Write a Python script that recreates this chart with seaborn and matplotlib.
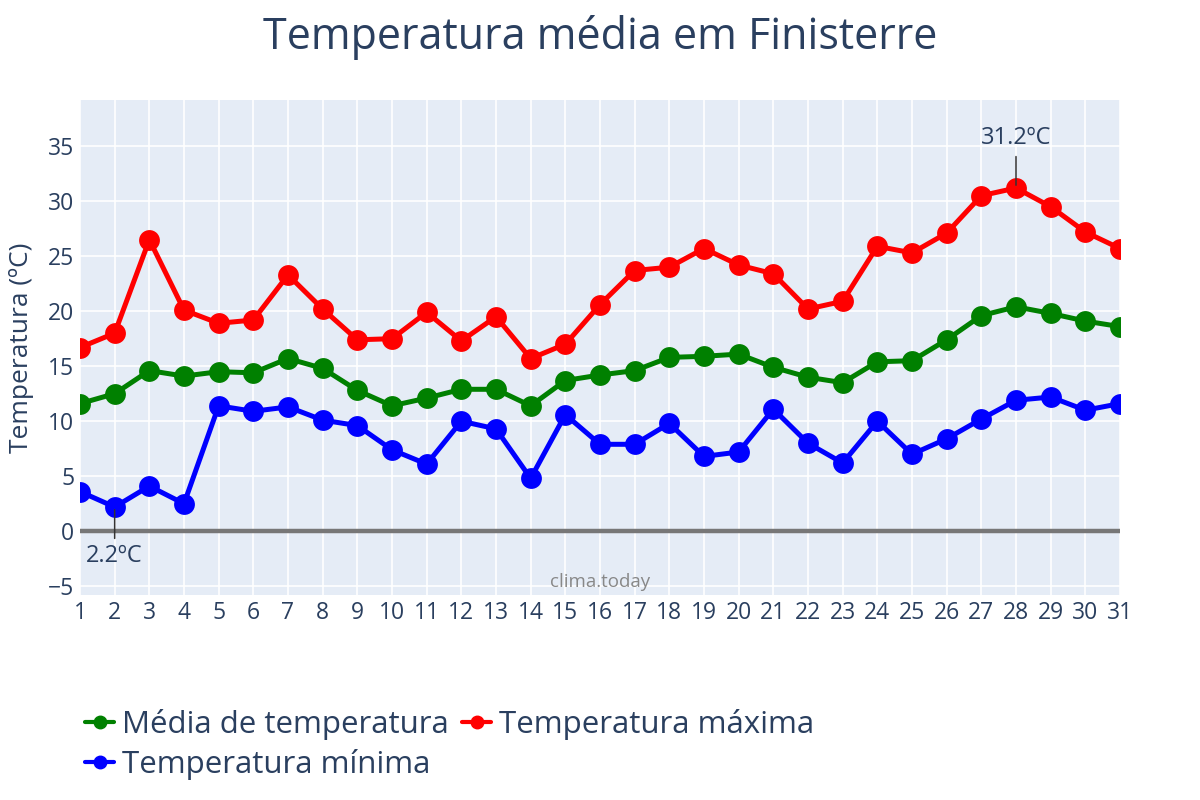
import matplotlib
matplotlib.use("Agg")
import matplotlib.pyplot as plt
import seaborn as sns
import pandas as pd
from matplotlib.lines import Line2D

days = list(range(1, 32))
t_max = [16.7, 18.0, 26.5, 20.1, 18.9, 19.2, 23.3, 20.2, 17.4, 17.5, 19.9, 17.3, 19.5, 15.7, 17.0,
         20.6, 23.7, 24.0, 25.7, 24.2, 23.4, 20.2, 20.9, 25.9, 25.3, 27.1, 30.5, 31.2, 29.5, 27.2, 25.7]
t_mean = [11.6, 12.5, 14.6, 14.1, 14.5, 14.4, 15.7, 14.8, 12.8, 11.4, 12.1, 12.9, 12.9, 11.4, 13.7,
          14.2, 14.6, 15.8, 15.9, 16.1, 14.9, 14.0, 13.5, 15.4, 15.5, 17.4, 19.6, 20.4, 19.8, 19.1, 18.6]
t_min = [3.6, 2.2, 4.1, 2.5, 11.4, 10.9, 11.3, 10.1, 9.6, 7.4, 6.1, 10.0, 9.3, 4.8, 10.6,
         7.9, 7.9, 9.8, 6.8, 7.2, 11.1, 8.0, 6.2, 10.0, 7.0, 8.4, 10.2, 11.9, 12.2, 11.0, 11.6]

names = ["Média de temperatura", "Temperatura máxima", "Temperatura mínima"]
colors = {"Média de temperatura": "green", "Temperatura máxima": "red", "Temperatura mínima": "blue"}
y_ticks = [-5, 0, 5, 10, 15, 20, 25, 30, 35]

df = pd.concat([
    pd.DataFrame({"dia": days, "temp": t_mean, "serie": names[0]}),
    pd.DataFrame({"dia": days, "temp": t_max, "serie": names[1]}),
    pd.DataFrame({"dia": days, "temp": t_min, "serie": names[2]}),
])

sns.set_theme(style="white")
plt.rcParams["font.family"] = ["Open Sans", "DejaVu Sans"]
txt = "#2a3f5f"

fig = plt.figure(figsize=(12, 8), dpi=100)
ax = fig.add_axes([80 / 1200, 1 - 595 / 800, 1040 / 1200, 495 / 800])
ax.set_facecolor("#E5ECF6")

ax.axhline(0, color="#777777", lw=3.2, zorder=1.5)

sns.lineplot(data=df, x="dia", y="temp", hue="serie", palette=colors, hue_order=names,
             marker="o", markersize=15, markeredgewidth=0, linewidth=3.6, ax=ax,
             legend=False, zorder=3)

ax.set_xlim(1, 31)
ax.set_ylim(-5.8, 39.2)
ax.set_xticks(days)
ax.set_yticks(y_ticks)
ax.set_yticklabels([("\u2212" + str(-v)) if v < 0 else str(v) for v in y_ticks])
ax.grid(True, color="white", lw=1.2, zorder=0)
ax.set_axisbelow(True)
for s in ax.spines.values():
    s.set_visible(False)
ax.tick_params(axis="both", length=0, labelsize=16.5, labelcolor=txt, pad=4)
ax.set_xlabel("")
ax.set_ylabel("Temperatura (ºC)", fontsize=19, color=txt, labelpad=10)

# annotations
imax = t_max.index(max(t_max))
ax.annotate(f"{t_max[imax]}ºC", xy=(days[imax], t_max[imax]), xytext=(0, 27),
            textcoords="offset points", ha="center", va="bottom", fontsize=17, color=txt,
            arrowprops=dict(arrowstyle="-", color="#333333", lw=1.1), zorder=5)
imin = t_min.index(min(t_min))
ax.annotate(f"{t_min[imin]}ºC", xy=(days[imin], t_min[imin]), xytext=(0, -27),
            textcoords="offset points", ha="center", va="top", fontsize=17, color=txt,
            arrowprops=dict(arrowstyle="-", color="#333333", lw=1.1), zorder=5)

ax.text(0.5, 0.008, "clima.today", transform=ax.transAxes, ha="center", va="bottom",
        fontsize=13.5, color="#888888")

fig.text(0.5, 1 - 37 / 800, "Temperatura média em Finisterre", ha="center", va="center",
         fontsize=31, color=txt)

handles = [Line2D([0], [0], color=colors[n], lw=3.0, marker="o", markersize=9) for n in names]
order = [0, 2, 1]
fig.legend([handles[i] for i in order], [names[i] for i in order], ncol=2,
           loc="upper left", bbox_to_anchor=(85 / 1200, 1 - 709 / 800), frameon=False,
           fontsize=22.5, labelcolor=txt, handlelength=0.93, handletextpad=0.26,
           columnspacing=0.42, labelspacing=0.3, borderaxespad=0, borderpad=0)

fig.savefig("out.png", dpi=100)
